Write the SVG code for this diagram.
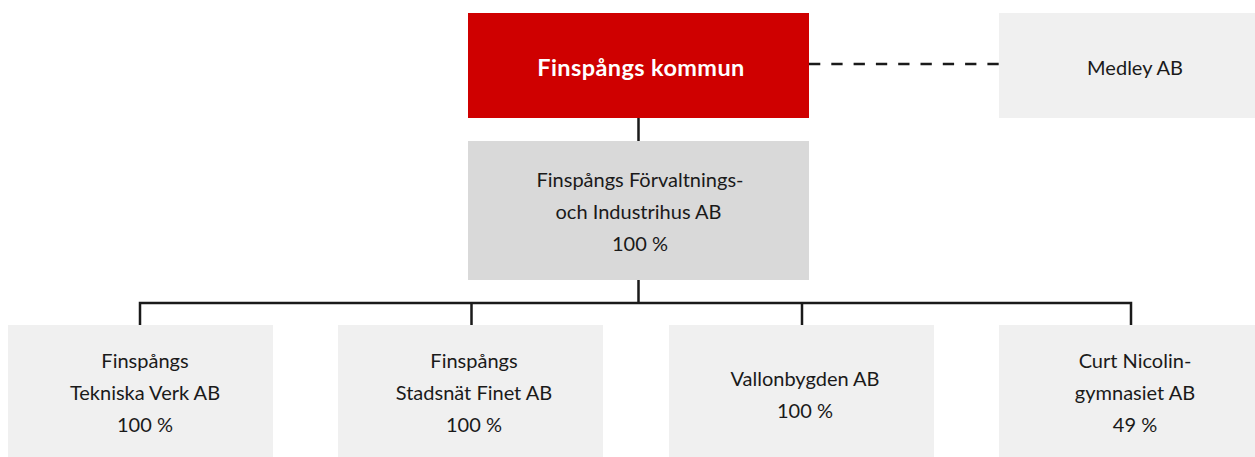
<svg xmlns="http://www.w3.org/2000/svg" width="1255" height="457" viewBox="0 0 1255 457">
<style>
text{font-family:Lato,"Open Sans","Liberation Sans",sans-serif;font-size:20px;fill:#1a1a1a;text-anchor:middle}
.b{font-weight:bold;fill:#ffffff;font-size:23.5px;letter-spacing:0.4px}
.l{fill:#f0f0f0}
.g{fill:#d9d9d9}
.c{stroke:#1a1a1a;stroke-width:2.5;fill:none}
</style>
<rect width="1255" height="457" fill="#ffffff"/>
<g id="connectors">
<path class="c" d="M638.5 118V141M638.5 280V303M140 325V303H1131V325M471.5 303V325M802 303V325"/>
<path class="c" d="M809 64H999" stroke-dasharray="11.3 11"/>
</g>
<g id="kommun">
<rect x="468" y="13" width="341" height="105" fill="#cf0000"/>
<text class="b" x="641" y="76">Finspångs kommun</text>
</g>
<g id="medley">
<rect class="l" x="999" y="13" width="272" height="105"/>
<text x="1135" y="75">Medley AB</text>
</g>
<g id="fofi">
<rect class="g" x="468" y="141" width="341" height="139"/>
<text x="640" y="187">Finspångs Förvaltnings-</text>
<text x="638.5" y="219">och Industrihus AB</text>
<text x="640" y="251">100 %</text>
</g>
<g id="tekniska">
<rect class="l" x="8" y="325" width="265" height="132"/>
<text x="145" y="368">Finspångs</text>
<text x="145" y="400">Tekniska Verk AB</text>
<text x="145" y="432">100 %</text>
</g>
<g id="finet">
<rect class="l" x="338" y="325" width="265" height="132"/>
<text x="474" y="368">Finspångs</text>
<text x="474" y="400">Stadsnät Finet AB</text>
<text x="474" y="432">100 %</text>
</g>
<g id="vallonbygden">
<rect class="l" x="669" y="325" width="265" height="132"/>
<text x="805" y="386">Vallonbygden AB</text>
<text x="805" y="418">100 %</text>
</g>
<g id="curt">
<rect class="l" x="999" y="325" width="265" height="132"/>
<text x="1135" y="368">Curt Nicolin-</text>
<text x="1135" y="400">gymnasiet AB</text>
<text x="1135" y="432">49 %</text>
</g>
</svg>
